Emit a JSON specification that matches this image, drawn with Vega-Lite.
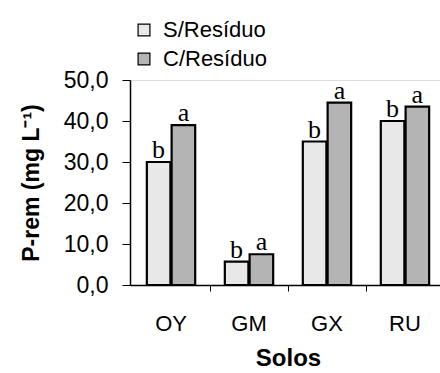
{
  "$schema": "https://vega.github.io/schema/vega-lite/v6.json",
  "autosize": {"type": "none"},
  "width": 310,
  "height": 205,
  "padding": {"left": 130, "top": 80, "right": 0, "bottom": 88},
  "background": "white",
  "data": {"values": [
    {"solo": "OY", "trat": "S/Resíduo", "valor": 30.0, "letra": "b"},
    {"solo": "OY", "trat": "C/Resíduo", "valor": 39.0, "letra": "a"},
    {"solo": "GM", "trat": "S/Resíduo", "valor": 5.7, "letra": "b"},
    {"solo": "GM", "trat": "C/Resíduo", "valor": 7.5, "letra": "a"},
    {"solo": "GX", "trat": "S/Resíduo", "valor": 35.0, "letra": "b"},
    {"solo": "GX", "trat": "C/Resíduo", "valor": 44.5, "letra": "a"},
    {"solo": "RU", "trat": "S/Resíduo", "valor": 40.0, "letra": "b"},
    {"solo": "RU", "trat": "C/Resíduo", "valor": 43.5, "letra": "a"}
  ]},
  "encoding": {
    "x": {
      "field": "solo", "type": "nominal", "sort": ["OY", "GM", "GX", "RU"],
      "scale": {"paddingInner": 0.38, "paddingOuter": 0.216, "range": [0, 316]},
      "axis": {
        "title": "Solos", "titleFont": "Liberation Sans", "titleFontSize": 24, "titleFontWeight": "bold",
        "titleColor": "black", "titlePadding": 12,
        "labelFont": "Liberation Sans", "labelFontSize": 22, "labelColor": "black", "labelAngle": 0,
        "labelPadding": 22, "bandPosition": 1.3125, "tickSize": 6, "tickColor": "black",
        "domainColor": "black", "domainWidth": 1.5, "grid": false
      }
    },
    "xOffset": {"field": "trat", "type": "nominal", "sort": ["S/Resíduo", "C/Resíduo"], "scale": {"paddingInner": 0.05}},
    "y": {
      "field": "valor", "type": "quantitative",
      "scale": {"domain": [0, 50], "nice": false},
      "axis": {
        "title": "P-rem (mg L⁻¹)", "titleFont": "Liberation Sans", "titleFontSize": 23, "titleFontWeight": "bold",
        "titleColor": "black", "titlePadding": 20,
        "values": [0, 10, 20, 30, 40, 50],
        "labelExpr": "replace(format(datum.value, '.1f'), '.', ',')",
        "labelFont": "Liberation Sans", "labelFontSize": 23, "labelColor": "black", "labelPadding": 14,
        "tickSize": 8, "tickColor": "black", "domainColor": "black", "domainWidth": 1.5, "grid": false
      }
    }
  },
  "layer": [
    {
      "mark": {"type": "bar", "stroke": "black", "strokeWidth": 2.2},
      "encoding": {
        "fill": {
          "field": "trat", "type": "nominal", "sort": ["S/Resíduo", "C/Resíduo"],
          "scale": {"domain": ["S/Resíduo", "C/Resíduo"], "range": ["#e8e8e8", "#b4b4b4"]},
          "legend": {
            "title": null, "orient": "none", "legendX": 3, "legendY": -61,
            "symbolType": "square", "symbolSize": 140, "symbolStrokeColor": "black", "symbolStrokeWidth": 1.2,
            "labelFont": "Liberation Sans", "labelFontSize": 22, "labelColor": "black",
            "rowPadding": 7, "labelOffset": 8
          }
        }
      }
    },
    {
      "mark": {"type": "text", "font": "Liberation Serif", "fontSize": 26, "baseline": "bottom", "dy": 1, "color": "black"},
      "encoding": {"text": {"field": "letra"}}
    }
  ]
}
